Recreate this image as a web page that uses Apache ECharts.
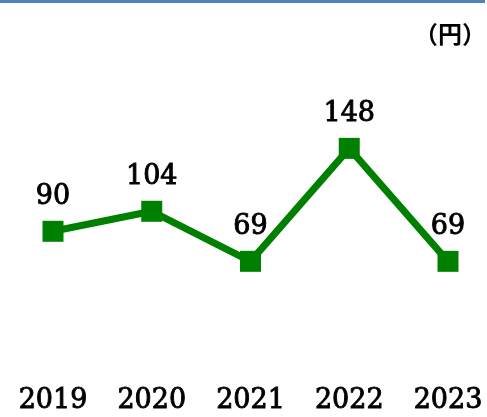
<!DOCTYPE html>
<html>
<head>
<meta charset="utf-8">
<script src="https://cdn.jsdelivr.net/npm/echarts@6/dist/echarts.min.js"></script>
<style>
  html, body { margin: 0; padding: 0; background: #fff; }
  #chart { width: 487px; height: 417px; }
  .topline { position: absolute; left: 0; top: 0; width: 485px; height: 3px; background: #4f81bd; }
</style>
</head>
<body>
<div class="topline"></div>
<div id="chart"></div>
<script>
const years = ['2019', '2020', '2021', '2022', '2023'];
const values = [90, 104, 69, 148, 69];
const unitLabel = '（円）';

var numFont = {
    fontFamily: 'DejaVu Serif',
    fontSize: 27,
    color: '#000',
    textBorderColor: '#000',
    textBorderWidth: 0.9
};

var chart = echarts.init(document.getElementById('chart'));
var option = {
    animation: false,
    title: {
        text: unitLabel,
        right: -4,
        top: 17,
        textStyle: {
            fontFamily: 'Noto Sans CJK JP',
            fontSize: 24,
            fontWeight: 'bold',
            color: '#000'
        }
    },
    grid: {
        left: 53,
        right: 39,
        top: 74,
        bottom: 57
    },
    xAxis: {
        type: 'category',
        data: years,
        boundaryGap: false,
        axisLine: { show: false },
        axisTick: { show: false },
        axisLabel: Object.assign({ margin: 27 }, numFont)
    },
    yAxis: {
        type: 'value',
        min: 0,
        max: 200,
        show: false
    },
    series: [
        {
            type: 'line',
            data: values,
            symbol: 'rect',
            symbolSize: 21,
            lineStyle: { color: '#008000', width: 7 },
            itemStyle: { color: '#008000' },
            label: Object.assign({ show: true, position: 'top', distance: 10 }, numFont)
        }
    ]
};
chart.setOption(option);
</script>
</body>
</html>
